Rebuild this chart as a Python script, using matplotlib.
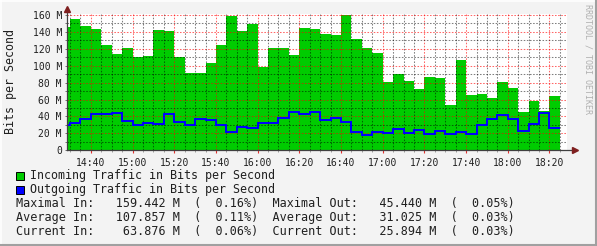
import numpy as np
import matplotlib
matplotlib.use("Agg")
import matplotlib.pyplot as plt
from matplotlib.patches import Rectangle
from matplotlib.lines import Line2D

# 5-minute samples, first bin starts 14:25 (minutes after 14:00)
start_min = 25
step_min = 5
incoming = [146.2, 155.7, 147.4, 143.8, 124.8, 114.1, 120.5, 109.8, 111.8, 142.6,
            140.6, 109.8, 91.7, 91.7, 103.5, 124.8, 159.4, 141.4, 149.7, 98.0,
            121.3, 120.5, 113.0, 145.0, 143.8, 137.9, 136.7, 159.44, 132.0, 120.5,
            115.4, 81.0, 90.5, 82.2, 72.7, 86.9, 85.7, 53.7, 106.3, 65.6,
            66.8, 62.0, 81.0, 73.9, 45.4, 58.5, 46.6, 63.876]
outgoing = [30.0, 32.4, 37.1, 42.7, 42.7, 44.2, 34.4, 30.0, 32.0, 30.8,
            42.7, 33.2, 29.6, 37.1, 35.6, 29.6, 21.3, 27.3, 26.1, 32.0,
            32.0, 37.9, 45.44, 42.7, 45.0, 36.3, 37.9, 33.2, 21.3, 17.8,
            21.3, 20.1, 25.3, 20.1, 23.7, 19.4, 22.5, 19.4, 21.3, 19.4,
            29.6, 36.7, 41.5, 36.7, 22.5, 30.8, 43.9, 25.894]
tick_minutes = [40, 60, 80, 100, 120, 140, 160, 180, 200, 220, 240, 260]
y_ticks = [0, 20, 40, 60, 80, 100, 120, 140, 160]

legend_labels = ["Incoming Traffic in Bits per Second",
                 "Outgoing Traffic in Bits per Second"]
stats_lines = [
    "Maximal In:   159.442 M  (  0.16%)  Maximal Out:   45.440 M  (  0.05%)",
    "Average In:   107.857 M  (  0.11%)  Average Out:   31.025 M  (  0.03%)",
    "Current In:    63.876 M  (  0.06%)  Current Out:   25.894 M  (  0.03%)",
]

W, H = 597, 246
BG = "#F3F3F3"
GREEN = "#00CC00"
BLUE = "#0000FF"
MONO = "DejaVu Sans Mono"


def fx(px):
    return px / W


def fy(py):
    return 1 - py / H


fig = plt.figure(figsize=(W / 100, H / 100), dpi=100, facecolor=BG)
left, right, top, bottom = 66.5, 567.0, 14.0, 150.3
ax = fig.add_axes([fx(left), fy(bottom), fx(right - left), (bottom - top) / H])
ax.set_facecolor("white")

edges = start_min + step_min * np.arange(len(incoming) + 1)
ax.stairs(incoming, edges, fill=True, color=GREEN, zorder=1, lw=0)
ax.stairs(outgoing, edges, baseline=None, color=BLUE, lw=1.4, zorder=3)

ax.set_xlim(28.3, 268.4)
ax.set_ylim(0, 160 * (bottom - top) / (bottom - 15.0))

ax.set_xticks(tick_minutes)
ax.set_xticklabels([f"{14 + m // 60}:{m % 60:02d}" for m in tick_minutes])
ax.set_xticks(np.arange(30, 268, 5), minor=True)
ax.set_yticks(y_ticks)
ax.set_yticklabels(["0" if v == 0 else f"{v} M" for v in y_ticks])
ax.set_yticks(np.arange(10, 161, 20), minor=True)

ax.set_axisbelow(False)
ax.grid(which="major", color="#FF0000", alpha=0.6, lw=0.75, ls=(0, (1.5, 1.5)))
ax.grid(which="minor", color="#000000", alpha=0.5, lw=0.75, ls=(0, (1.5, 1.5)))

for s in ax.spines.values():
    s.set_visible(False)

ax.tick_params(axis="x", which="major", direction="out", length=2.2, width=0.8,
               color="#E03030", pad=3, labelsize=7.05, labelcolor="#202020")
ax.tick_params(axis="x", which="minor", direction="out", length=1.2, width=0.6,
               color="#909090")
ax.tick_params(axis="y", which="both", direction="out", length=1.8, width=0.7,
               color="#707070", pad=1.5, labelsize=7.05, labelcolor="#202020")
for lab in ax.get_xticklabels() + ax.get_yticklabels():
    lab.set_family(MONO)

# axis lines with arrow heads
ax.plot([0, 1.013], [0, 0], transform=ax.transAxes, color="#404040", lw=0.9,
        clip_on=False, zorder=4)
ax.plot([0, 0], [0, 1.03], transform=ax.transAxes, color="#404040", lw=0.9,
        clip_on=False, zorder=4)
ax.plot([1.016], [0], marker=">", ms=4.5, color="#7F1F1F", transform=ax.transAxes,
        clip_on=False, zorder=5)
ax.plot([0], [1.04], marker="^", ms=4.5, color="#7F1F1F", transform=ax.transAxes,
        clip_on=False, zorder=5)

fig.text(fx(10.5), fy(82), "Bits per Second", rotation=90, ha="center", va="center",
         family=MONO, fontsize=8.4, color="#202020")
fig.text(fx(588), fy(4), "RRDTOOL / TOBI OETIKER", rotation=270, ha="center",
         va="top", family=MONO, fontsize=6.0, color="#B0B0B0")

# legend
for i, (lab, col) in enumerate(zip(legend_labels, [GREEN, BLUE])):
    yc = 175.5 + i * 14.3
    fig.add_artist(Rectangle((fx(15.5), fy(yc + 4)), 8 / W, 8 / H,
                             facecolor=col, edgecolor="black", lw=0.7,
                             transform=fig.transFigure))
    fig.text(fx(30), fy(yc), lab, ha="left", va="center", family=MONO,
             fontsize=8.4, color="#202020")

for i, line in enumerate(stats_lines):
    fig.text(fx(16), fy(204 + i * 14), line, ha="left", va="center", family=MONO,
             fontsize=8.45, color="#202020")

# 3d frame
fig.add_artist(Line2D([0, 1], [fy(0.5), fy(0.5)], transform=fig.transFigure,
                      color="white", lw=1.2))
fig.add_artist(Line2D([fx(0.5), fx(0.5)], [0, 1], transform=fig.transFigure,
                      color="white", lw=1.2))
fig.add_artist(Line2D([0, 1], [fy(245), fy(245)], transform=fig.transFigure,
                      color="#A0A0A0", lw=1.5))
fig.add_artist(Line2D([fx(596), fx(596)], [0, 1], transform=fig.transFigure,
                      color="#A0A0A0", lw=1.5))

fig.savefig("out.png", dpi=100, facecolor=BG)
